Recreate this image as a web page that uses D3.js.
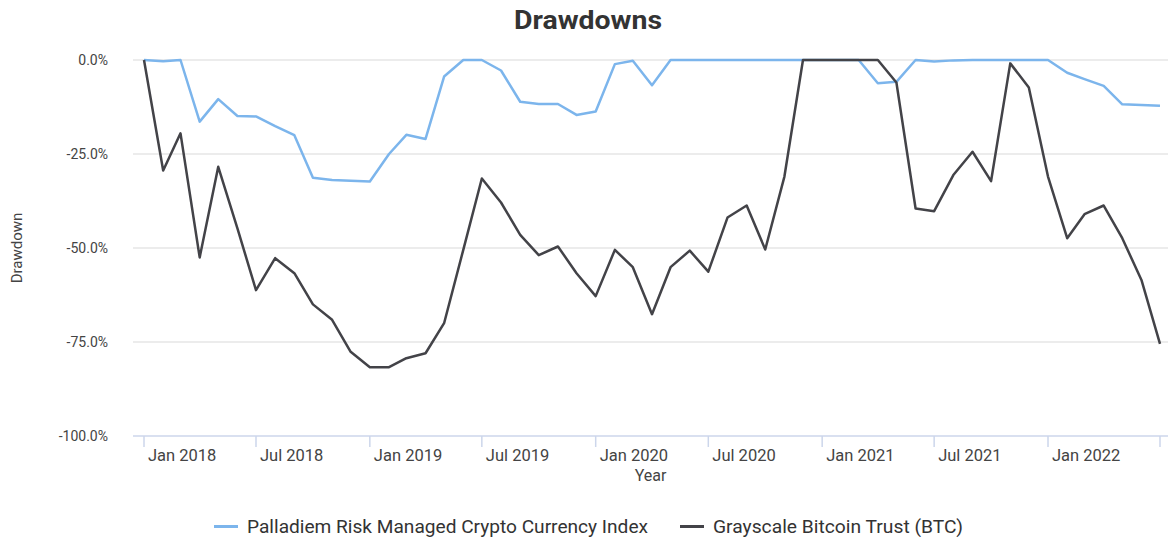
<!DOCTYPE html>
<html>
<head>
<meta charset="utf-8">
<script src="https://cdn.jsdelivr.net/npm/d3@7"></script>
<style>
  body { margin: 0; background: #fff; }
  text { font-family: Roboto, "Noto Sans", sans-serif; }
</style>
</head>
<body>
<div id="chart"></div>
<script>

// monthly points, Jan 2018 .. Jul 2022
const months = ["2018-01","2018-02","2018-03","2018-04","2018-05","2018-06","2018-07","2018-08","2018-09","2018-10","2018-11","2018-12",
    "2019-01","2019-02","2019-03","2019-04","2019-05","2019-06","2019-07","2019-08","2019-09","2019-10","2019-11","2019-12",
    "2020-01","2020-02","2020-03","2020-04","2020-05","2020-06","2020-07","2020-08","2020-09","2020-10","2020-11","2020-12",
    "2021-01","2021-02","2021-03","2021-04","2021-05","2021-06","2021-07","2021-08","2021-09","2021-10","2021-11","2021-12",
    "2022-01","2022-02","2022-03","2022-04","2022-05","2022-06","2022-07"];

const palladiem = [0, -0.3, 0, -16.4, -10.4, -14.9, -15, -17.6, -20, -31.3, -31.9, -32.1,
    -32.3, -25, -19.9, -21, -4.4, 0, 0, -2.8, -11.1, -11.7, -11.7, -14.6,
    -13.7, -1.1, -0.2, -6.7, 0, 0, 0, 0, 0, 0, 0, 0,
    0, 0, 0, -6.2, -5.8, 0, -0.4, -0.1, 0, 0, 0, 0,
    0, -3.4, -5.1, -6.9, -11.8, -12, -12.2];

const gbtc = [0, -29.4, -19.5, -52.5, -28.4, -44.8, -61.2, -52.7, -56.7, -65, -69.1, -77.6,
    -81.7, -81.7, -79.3, -78, -70, -50.5, -31.5, -37.9, -46.5, -51.9, -49.6, -56.7,
    -62.8, -50.5, -55.1, -67.6, -55.1, -50.7, -56.3, -41.9, -38.7, -50.4, -31, 0,
    0, 0, 0, 0, -6, -39.5, -40.2, -30.6, -24.4, -32.2, -0.9, -7.3,
    -31, -47.4, -41, -38.7, -47.4, -58.5, -75.5];

const seriesNames = ["Palladiem Risk Managed Crypto Currency Index", "Grayscale Bitcoin Trust (BTC)"];
const seriesColors = ["#7cb5ec", "#434348"];
const yTicks = [0, -25, -50, -75, -100];

const width = 1168,
    height = 537,
    margin = ({ top: 60, right: 8, bottom: 101, left: 133 });

let parseMonth = d3.timeParse("%Y-%m");
let dates = months.map(parseMonth);

let svg = d3.select("#chart")
    .append("svg")
    .attr("width", width)
    .attr("height", height);

let x = d3.scaleTime()
    .domain(d3.extent(dates))
    .range([144, 1160]);

let y = d3.scaleLinear()
    .domain([-100, 0])
    .range([height - margin.bottom, margin.top]);

// gridlines
svg.append("g")
    .selectAll("line")
    .data(yTicks.slice(0, -1))
    .join("line")
    .attr("x1", margin.left)
    .attr("x2", width)
    .attr("y1", d => y(d))
    .attr("y2", d => y(d))
    .attr("stroke", "#e6e6e6")
    .attr("stroke-width", 1.5);

// y labels
svg.append("g")
    .selectAll("text")
    .data(yTicks)
    .join("text")
    .attr("x", 108)
    .attr("y", d => y(d) + 5)
    .attr("text-anchor", "end")
    .attr("font-size", 14)
    .attr("fill", "#444")
    .text(d => d.toFixed(1) + "%");

// x axis
let xTicks = d3.timeMonth.every(6).range(dates[0], d3.timeMonth.offset(dates[dates.length - 1], 1));
let xAxis = svg.append("g");

xAxis.append("line")
    .attr("x1", margin.left)
    .attr("x2", width)
    .attr("y1", y(-100))
    .attr("y2", y(-100))
    .attr("stroke", "#ccd6eb")
    .attr("stroke-width", 1.5);

xAxis.selectAll(".tick")
    .data(xTicks)
    .join("line")
    .attr("class", "tick")
    .attr("x1", d => x(d))
    .attr("x2", d => x(d))
    .attr("y1", y(-100))
    .attr("y2", y(-100) + 11)
    .attr("stroke", "#ccd6eb")
    .attr("stroke-width", 1.5);

let fmt = d3.timeFormat("%b %Y");
xAxis.selectAll(".tick-label")
    .data(xTicks.slice(0, -1)) // last tick has no label
    .join("text")
    .attr("class", "tick-label")
    .attr("x", d => x(d) + 4)
    .attr("y", 461)
    .attr("font-size", 16.5)
    .attr("fill", "#444")
    .text(d => fmt(d));

svg.append("text")
    .attr("x", (margin.left + width) / 2)
    .attr("y", 481)
    .attr("text-anchor", "middle")
    .attr("font-size", 16)
    .attr("fill", "#444")
    .text("Year");

svg.append("text")
    .attr("transform", `translate(22,${(y(0) + y(-100)) / 2}) rotate(-90)`)
    .attr("text-anchor", "middle")
    .attr("font-size", 15)
    .attr("fill", "#444")
    .text("Drawdown");

// title
svg.append("text")
    .attr("x", 588)
    .attr("y", 29)
    .attr("text-anchor", "middle")
    .attr("font-size", 26)
    .attr("font-weight", "bold")
    .attr("fill", "#333")
    .attr("textLength", 148)
    .attr("lengthAdjust", "spacingAndGlyphs")
    .text("Drawdowns");

// lines
let line = d3.line()
    .x((d, i) => x(dates[i]))
    .y(d => y(d));

[palladiem, gbtc].forEach((s, k) => {
    svg.append("path")
        .datum(s)
        .attr("fill", "none")
        .attr("stroke", seriesColors[k])
        .attr("stroke-width", 2.5)
        .attr("stroke-linejoin", "round")
        .attr("d", line);
});

// legend
let legendX = [214, 680];
let legendW = [401, 250];
let legend = svg.append("g")
    .selectAll("g")
    .data(seriesNames)
    .join("g")
    .attr("transform", (d, i) => `translate(${legendX[i]},526.5)`);

legend.append("line")
    .attr("x1", 0)
    .attr("x2", 24)
    .attr("stroke", (d, i) => seriesColors[i])
    .attr("stroke-width", 3);

legend.append("text")
    .attr("x", 33)
    .attr("y", 6)
    .attr("font-size", 17.5)
    .attr("fill", "#333")
    .attr("textLength", (d, i) => legendW[i])
    .attr("lengthAdjust", "spacingAndGlyphs")
    .text(d => d);

</script>
</body>
</html>
